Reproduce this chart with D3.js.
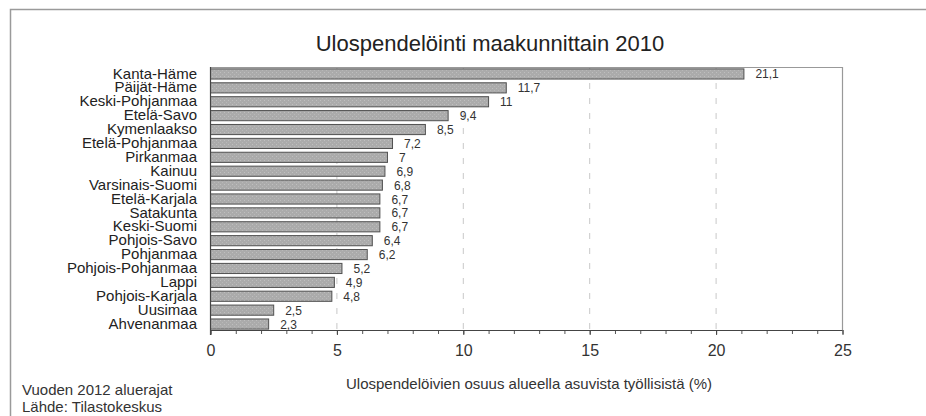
<!DOCTYPE html>
<html>
<head>
<meta charset="utf-8">
<script src="https://cdn.jsdelivr.net/npm/d3@7/dist/d3.min.js"></script>
<style>
  html, body { margin: 0; padding: 0; background: #fff; overflow: hidden; }
  svg { display: block; font-family: "Liberation Sans", Arial, sans-serif; }
</style>
</head>
<body>
<svg id="chart" width="926" height="416"></svg>
<script>
const categories = ["Kanta-Häme","Päijät-Häme","Keski-Pohjanmaa","Etelä-Savo","Kymenlaakso","Etelä-Pohjanmaa","Pirkanmaa","Kainuu","Varsinais-Suomi","Etelä-Karjala","Satakunta","Keski-Suomi","Pohjois-Savo","Pohjanmaa","Pohjois-Pohjanmaa","Lappi","Pohjois-Karjala","Uusimaa","Ahvenanmaa"];
const values = [21.1, 11.7, 11, 9.4, 8.5, 7.2, 7, 6.9, 6.8, 6.7, 6.7, 6.7, 6.4, 6.2, 5.2, 4.9, 4.8, 2.5, 2.3];
const xTicks = [0, 5, 10, 15, 20, 25];
const title = "Ulospendelöinti maakunnittain 2010";
const xTitle = "Ulospendelöivien osuus alueella asuvista työllisistä (%)";
const notes = ["Vuoden 2012 aluerajat", "Lähde: Tilastokeskus"];

const svg = d3.select("#chart");
const L = 210, R = 842, T = 67, B = 330;
const FONT = "Liberation Sans, Arial, sans-serif";

// outer frame
svg.append("rect").attr("x", 10.5).attr("y", 9.5).attr("width", 940).attr("height", 440)
  .attr("fill", "none").attr("stroke", "#9a9a9a").attr("stroke-width", 1.5);

const x = d3.scaleLinear().domain([0, 25]).range([L, R]);
const y = d3.scaleBand().domain(categories).range([T, B]).paddingInner(0.27).paddingOuter(0.1);

// plot frame (top/right)
svg.append("path").attr("d", `M${L},${T+0.5}H${R+0.5}V${B}`)
  .attr("fill", "none").attr("stroke", "#999").attr("stroke-width", 1.2);

// gridlines
svg.append("g").selectAll("line").data(xTicks.filter(d => d > 0 && d < 25)).join("line")
  .attr("x1", d => x(d) + 0.5).attr("x2", d => x(d) + 0.5)
  .attr("y1", T + 1).attr("y2", B)
  .attr("stroke", "#c8c8c8").attr("stroke-width", 1).attr("stroke-dasharray", "6,9");

// bar texture
const defs = svg.append("defs");
const pat = defs.append("pattern").attr("id", "tex").attr("patternUnits", "userSpaceOnUse")
  .attr("width", 4).attr("height", 4);
pat.append("rect").attr("width", 4).attr("height", 4).attr("fill", "#ababab");
pat.append("rect").attr("x", 0).attr("y", 0).attr("width", 1).attr("height", 1).attr("fill", "#bfbfbf");
pat.append("rect").attr("x", 2).attr("y", 2).attr("width", 1).attr("height", 1).attr("fill", "#b8b8b8");

// bars
svg.append("g").selectAll("rect").data(categories).join("rect")
  .attr("x", x(0) + 0.5)
  .attr("y", (d) => y(d) + 0.5)
  .attr("width", (d, i) => x(values[i]) - x(0))
  .attr("height", y.bandwidth())
  .attr("fill", "url(#tex)")
  .attr("stroke", "#505050").attr("stroke-width", 1);

// value labels
svg.append("g").selectAll("text").data(categories).join("text")
  .attr("x", (d, i) => x(values[i]) + 12)
  .attr("y", d => y(d) + y.bandwidth() / 2 + 5)
  .attr("font-size", 12).attr("fill", "#333")
  .text((d, i) => String(values[i]).replace(".", ","));

// category axis
const yAxis = d3.axisLeft(y).tickSize(0).tickPadding(13);
const gy = svg.append("g").attr("transform", `translate(${L},0)`).call(yAxis);
gy.select(".domain").remove();
gy.selectAll("text").attr("font-size", 15).attr("fill", "#222").attr("font-family", FONT).attr("dy", "0.34em");
svg.append("line").attr("x1", L + 0.5).attr("x2", L + 0.5).attr("y1", T).attr("y2", B + 5)
  .attr("stroke", "#444").attr("stroke-width", 1.2);

// x axis minor ticks
const minor = d3.range(0, 26, 1);
const xAxisMinor = d3.axisBottom(x).tickValues(minor).tickSize(4).tickFormat("");
const gm = svg.append("g").attr("transform", `translate(0.5,${B})`).call(xAxisMinor);
gm.select(".domain").remove();
gm.selectAll("line").attr("stroke", "#555");

const xAxis = d3.axisBottom(x).tickValues(xTicks).tickSize(5).tickPadding(10).tickFormat(d3.format("d"));
const gx = svg.append("g").attr("transform", `translate(0.5,${B})`).call(xAxis);
gx.select(".domain").attr("stroke", "#444").attr("stroke-width", 1.2).attr("d", `M${L - 0.5},0.5H${R}`);
gx.selectAll("line").attr("stroke", "#444");
gx.selectAll("text").attr("font-size", 16).attr("fill", "#333").attr("font-family", FONT);

// title
svg.append("text").attr("x", 490).attr("y", 51).attr("text-anchor", "middle")
  .attr("font-size", 22).attr("fill", "#222").text(title);

// x title
svg.append("text").attr("x", (L + R) / 2 + 3).attr("y", 389).attr("text-anchor", "middle")
  .attr("font-size", 15).attr("fill", "#333").text(xTitle);

// notes
svg.append("g").selectAll("text").data(notes).join("text")
  .attr("x", 22).attr("y", (d, i) => 395 + i * 17)
  .attr("font-size", 15).attr("fill", "#333").text(d => d);
</script>
</body>
</html>
